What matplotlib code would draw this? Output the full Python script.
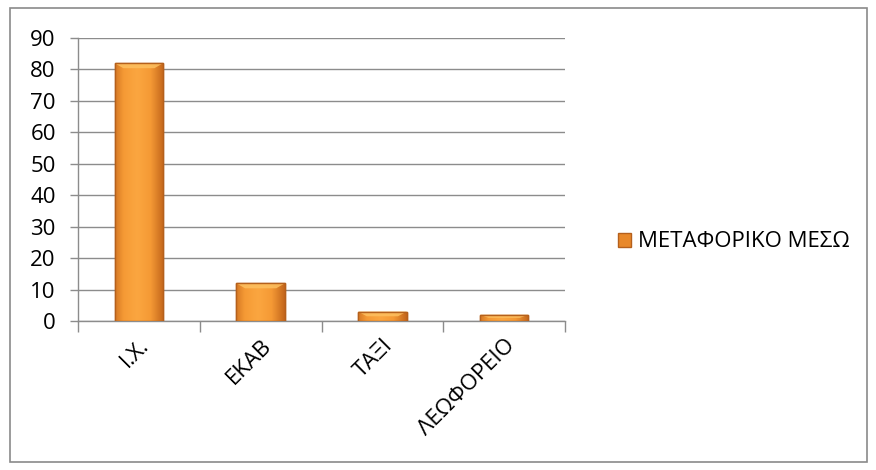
import numpy as np
import matplotlib
matplotlib.use("Agg")
import matplotlib.pyplot as plt
from matplotlib.colors import LinearSegmentedColormap
from matplotlib.patches import Rectangle, Polygon
from matplotlib.transforms import ScaledTranslation

categories = ["Ι.Χ.", "ΕΚΑΒ", "ΤΑΞΙ", "ΛΕΩΦΟΡΕΙΟ"]
values = [82, 12, 3, 2]
series_name = "ΜΕΤΑΦΟΡΙΚΟ ΜΕΣΩ"
yticks = [0, 10, 20, 30, 40, 50, 60, 70, 80, 90]

plt.rcParams["font.family"] = ["Open Sans", "DejaVu Sans"]
FS = 16

fig = plt.figure(figsize=(8.76, 4.70), dpi=100)
fig.patches.append(Rectangle((10 / 876, 8 / 470), 857 / 876, 454 / 470,
                             transform=fig.transFigure, fill=False,
                             edgecolor="#8a8a8a", linewidth=1.2))

ax = fig.add_axes([78 / 876, 1 - 321 / 470, 487 / 876, 283 / 470])
x = np.arange(len(categories))
width = 0.4
bars = ax.bar(x, values, width=width, color="#F0902A", edgecolor="#B5601C",
              linewidth=1.0, zorder=3, label=series_name)

# horizontal shading across each bar: darker edges, light centre
grad = np.linspace(0, 1, 64)
shade = 1 - np.abs(grad - 0.45) * 1.6
cmap = LinearSegmentedColormap.from_list("bevel", ["#C4661C", "#F59A35", "#FBA640"])
for rect in bars:
    bx, by = rect.get_x(), rect.get_y()
    bw, bh = rect.get_width(), rect.get_height()
    im = ax.imshow(shade[np.newaxis, :], cmap=cmap, aspect="auto",
                   extent=[bx, bx + bw, by, by + bh], zorder=3.5,
                   interpolation="bicubic")
    im.set_clip_path(rect)
    # bevelled top highlight
    cap = min(bh * 0.5, 1.6)
    inset = bw * 0.18
    ax.add_patch(Polygon([[bx, by + bh], [bx + bw, by + bh],
                          [bx + bw - inset, by + bh - cap], [bx + inset, by + bh - cap]],
                         closed=True, facecolor="#FDC060", edgecolor="none",
                         alpha=0.85, zorder=3.6))
    ax.add_patch(Rectangle((bx, by), bw, bh, fill=False, edgecolor="#B5601C",
                           linewidth=1.0, zorder=3.7))

ax.set_xlim(-0.5, len(categories) - 0.5)
ax.set_ylim(0, 90)
ax.set_yticks(yticks)
ax.yaxis.grid(True, color="#8c8c8c", linewidth=1.0, zorder=0)
ax.set_axisbelow(True)

ax.set_xticks(np.arange(len(categories) + 1) - 0.5, minor=False)
ax.set_xticklabels([])
ax.set_xticks(x, minor=True)
labels = ax.set_xticklabels(categories, minor=True, rotation=45, ha="right",
                            va="top", rotation_mode="anchor", fontsize=FS)
shift = ScaledTranslation(12 / 100, 0, fig.dpi_scale_trans)
for lab in labels:
    lab.set_transform(lab.get_transform() + shift)
ax.tick_params(axis="x", which="major", length=8, color="#8c8c8c", width=1)
ax.tick_params(axis="x", which="minor", length=0, pad=10)
ax.tick_params(axis="y", length=6, color="#8c8c8c", width=1,
               labelsize=FS, pad=10)

for s in ["top", "right"]:
    ax.spines[s].set_visible(False)
for s in ["left", "bottom"]:
    ax.spines[s].set_color("#8c8c8c")
    ax.spines[s].set_linewidth(1)

leg = fig.legend(handles=[Rectangle((0, 0), 1, 1, facecolor="#E8882A",
                                    edgecolor="#B5601C")],
                 labels=[series_name], loc="center left",
                 bbox_to_anchor=(598 / 876, 1 - 242 / 470), frameon=False,
                 fontsize=FS, handlelength=0.6, handleheight=0.6,
                 handletextpad=0.3)

fig.savefig("out.png", dpi=100)
